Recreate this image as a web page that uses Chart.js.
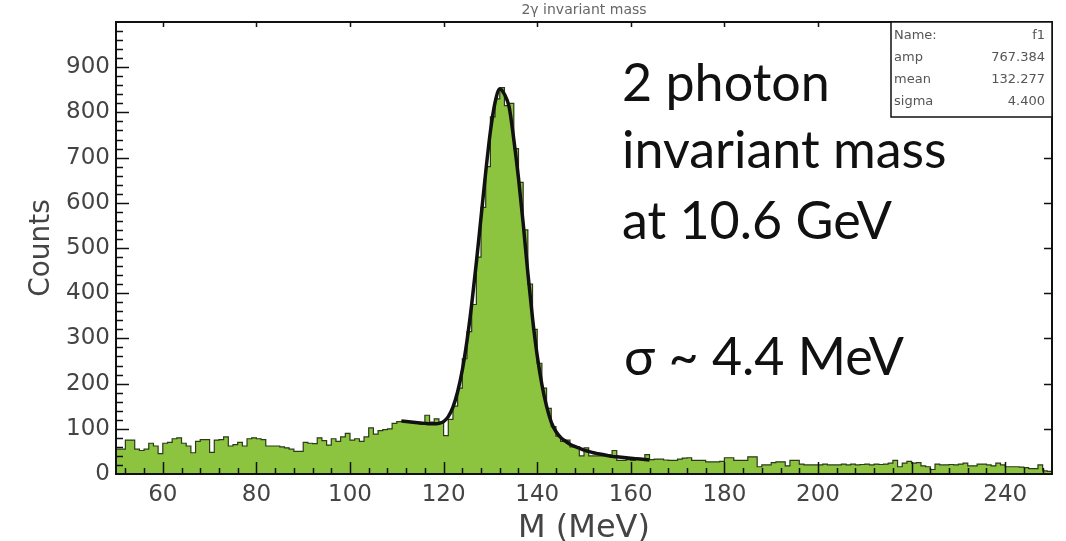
<!DOCTYPE html>
<html>
<head>
<meta charset="utf-8">
<title>2 photon invariant mass</title>
<script src="https://cdn.jsdelivr.net/npm/chart.js@4.4.1/dist/chart.umd.min.js"></script>
<style>
  html, body { margin: 0; padding: 0; background: #fff; }
  #wrap { width: 1066px; height: 541px; }
</style>
</head>
<body>
<div id="wrap"><canvas id="chart" width="1066" height="541"></canvas></div>
<script>
// histogram: 1 MeV bins from 50 to 250 MeV
const massStart = 50;
const binWidth = 1;
const counts = [
  55, 55, 75, 75, 55, 52, 55, 68, 62, 45,      // 50-59
  68, 70, 78, 80, 68, 62, 47, 72, 76, 76,      // 60-69
  48, 75, 76, 82, 62, 65, 70, 62, 78, 80,      // 70-79
  78, 76, 62, 62, 62, 60, 58, 55, 50, 50,      // 80-89
  70, 68, 67, 80, 74, 64, 78, 72, 82, 90,      // 90-99
  75, 78, 72, 82, 102, 88, 96, 98, 100, 112,   // 100-109
  116, 117, 115, 114, 113, 110, 130, 115, 122, 112, // 110-119
  85, 121, 150, 190, 255, 315, 375, 480, 590, 680,  // 120-129
  790, 830, 855, 815, 820, 720, 645, 540, 420, 320, // 130-139
  245, 190, 145, 105, 84, 72, 75, 60, 60, 40,  // 140-149
  58, 40, 40, 40, 40, 40, 52, 30, 30, 32,      // 150-159
  30, 33, 33, 43, 32, 33, 33, 31, 30, 30,      // 160-169
  33, 35, 36, 30, 30, 30, 27, 27, 27, 28,      // 170-179
  36, 36, 30, 30, 30, 38, 38, 16, 20, 20,      // 180-189
  25, 27, 27, 18, 30, 30, 22, 20, 20, 20,      // 190-199
  20, 22, 20, 20, 20, 22, 20, 22, 20, 21,      // 200-209
  22, 20, 22, 21, 22, 24, 30, 16, 24, 28,      // 210-219
  24, 25, 18, 16, 10, 22, 20, 20, 21, 20,      // 220-229
  22, 24, 18, 18, 22, 22, 20, 18, 24, 20,      // 230-239
  16, 16, 16, 15, 14, 12, 12, 20, 7, 6         // 240-249
];

// fitted gaussian + background
const fitMass = [
  111, 112, 113, 114, 115, 116, 117, 118, 119, 120,
  121, 122, 123, 124, 125, 126, 127, 128, 129, 130,
  131, 132, 133, 134, 135, 136, 137, 138, 139, 140,
  141, 142, 143, 144, 145, 146, 147, 148, 149, 150,
  151, 152, 153, 154, 155, 156, 157, 158, 159, 160,
  161, 162, 163, 164
];
const fitCounts = [
  117, 116, 115, 114, 113, 112, 111, 111, 112, 116,
  127, 148, 182, 230, 295, 375, 468, 568, 668, 758,
  822, 852, 840, 812, 740, 655, 555, 445, 345, 262,
  198, 150, 115, 94, 81, 73, 66, 61, 57, 53,
  50, 47, 45, 43, 41, 39, 38, 37, 36, 35,
  34, 33, 32, 31
];

const xTicks = [60, 80, 100, 120, 140, 160, 180, 200, 220, 240];
const yTicks = [0, 100, 200, 300, 400, 500, 600, 700, 800, 900];
const statRows = [['Name:', 'f1'], ['amp', '767.384'], ['mean', '132.277'], ['sigma', '4.400']];
const noteLines = ['2 photon', 'invariant mass', 'at 10.6 GeV'];
const sigmaNote = 'σ ~ 4.4 MeV';

// step outline needs a closing point at the upper edge of the last bin
const histPoints = counts.map((c, i) => ({ x: massStart + i * binWidth, y: c }));
histPoints.push({ x: massStart + counts.length * binWidth, y: counts[counts.length - 1] });

const fitPoints = fitMass.map((m, i) => ({ x: m, y: fitCounts[i] }));

// ROOT style frame with inward ticks, stats box and the slide text
const rootFrame = {
  id: 'rootFrame',
  afterDatasetsDraw(chart) {
    const ctx = chart.ctx;
    const a = chart.chartArea;
    const xs = chart.scales.x;
    const ys = chart.scales.y;
    ctx.save();
    ctx.strokeStyle = '#111';

    // minor / major ticks
    ctx.lineWidth = 1.5;
    ctx.beginPath();
    for (let v = 52; v < 250; v += 4) {
      const px = Math.round(xs.getPixelForValue(v)) + 0.5;
      const len = (v % 20 === 0) ? 12 : 6;
      ctx.moveTo(px, a.bottom);
      ctx.lineTo(px, a.bottom - len);
    }
    xTicks.forEach(v => {
      const px = Math.round(xs.getPixelForValue(v)) + 0.5;
      ctx.moveTo(px, a.top);
      ctx.lineTo(px, a.top + 5);
    });
    for (let v = 20; v < 1000; v += 20) {
      const py = Math.round(ys.getPixelForValue(v)) + 0.5;
      const len = (v % 100 === 0) ? 13 : 7;
      ctx.moveTo(a.left, py);
      ctx.lineTo(a.left + len, py);
    }
    yTicks.forEach(v => {
      if (v === 0) return;
      const py = Math.round(ys.getPixelForValue(v)) + 0.5;
      ctx.moveTo(a.right, py);
      ctx.lineTo(a.right - 8, py);
    });
    ctx.stroke();

    // frame
    ctx.lineWidth = 2;
    ctx.strokeRect(a.left, a.top, a.right - a.left, a.bottom - a.top);

    // stats box
    const bx = 891, by = 22, bw = a.right - 891, bh = 95;
    ctx.fillStyle = '#fff';
    ctx.fillRect(bx, by, bw, bh);
    ctx.lineWidth = 1.5;
    ctx.strokeRect(bx, by, bw, bh);
    ctx.font = '13px "DejaVu Sans"';
    ctx.fillStyle = '#555';
    ctx.textBaseline = 'middle';
    statRows.forEach((row, i) => {
      const ty = 36 + i * 22;
      ctx.textAlign = 'left';
      ctx.fillText(row[0], bx + 3, ty);
      ctx.textAlign = 'right';
      ctx.fillText(row[1], a.right - 7, ty);
    });

    // small histogram title
    ctx.font = '14px "DejaVu Sans"';
    ctx.fillStyle = '#666';
    ctx.textAlign = 'center';
    ctx.fillText('2γ invariant mass', 584, 10);

    // big annotation
    ctx.font = '52px Lato';
    ctx.fillStyle = '#111';
    ctx.textAlign = 'left';
    ctx.textBaseline = 'alphabetic';
    const base = [101, 168, 239];
    noteLines.forEach((t, i) => ctx.fillText(t, 622, base[i]));
    ctx.fillText(sigmaNote, 624, 375);
    ctx.restore();
  }
};

const ctx = document.getElementById('chart');
new Chart(ctx, {
  type: 'line',
  data: {
    datasets: [
      {
        label: 'fit',
        data: fitPoints,
        borderColor: '#111',
        borderWidth: 3.5,
        pointRadius: 0,
        fill: false,
        cubicInterpolationMode: 'monotone'
      },
      {
        label: 'counts',
        data: histPoints,
        stepped: 'before',
        borderColor: '#2b3a1a',
        borderWidth: 1.2,
        backgroundColor: '#8cc43f',
        pointRadius: 0,
        fill: 'origin'
      }
    ]
  },
  options: {
    responsive: false,
    animation: false,
    devicePixelRatio: 1,
    layout: { padding: { left: 0, right: 14, top: 22, bottom: 0 } },
    plugins: {
      legend: { display: false },
      tooltip: { enabled: false }
    },
    scales: {
      x: {
        type: 'linear',
        min: 50,
        max: 250,
        grid: { display: false, drawTicks: false },
        border: { display: false },
        afterBuildTicks: s => { s.ticks = xTicks.map(v => ({ value: v })); },
        afterFit: s => { s.height = 67; },
        ticks: {
          autoSkip: false,
          maxRotation: 0,
          padding: 7,
          color: '#444',
          font: { family: 'DejaVu Sans', size: 23 }
        },
        title: {
          display: true,
          text: 'M (MeV)',
          color: '#444',
          padding: 0,
          font: { family: 'DejaVu Sans', size: 32, lineHeight: 0.75 }
        }
      },
      y: {
        min: 0,
        max: 1000,
        grid: { display: false, drawTicks: false },
        border: { display: false },
        afterBuildTicks: s => { s.ticks = yTicks.map(v => ({ value: v })); },
        afterFit: s => { s.width = 116; },
        ticks: {
          padding: 6,
          color: '#444',
          font: { family: 'DejaVu Sans', size: 23 }
        },
        title: {
          display: true,
          text: 'Counts',
          color: '#444',
          padding: { top: 25, bottom: 0 },
          font: { family: 'DejaVu Sans', size: 28 }
        }
      }
    }
  },
  plugins: [rootFrame]
});
</script>
</body>
</html>
